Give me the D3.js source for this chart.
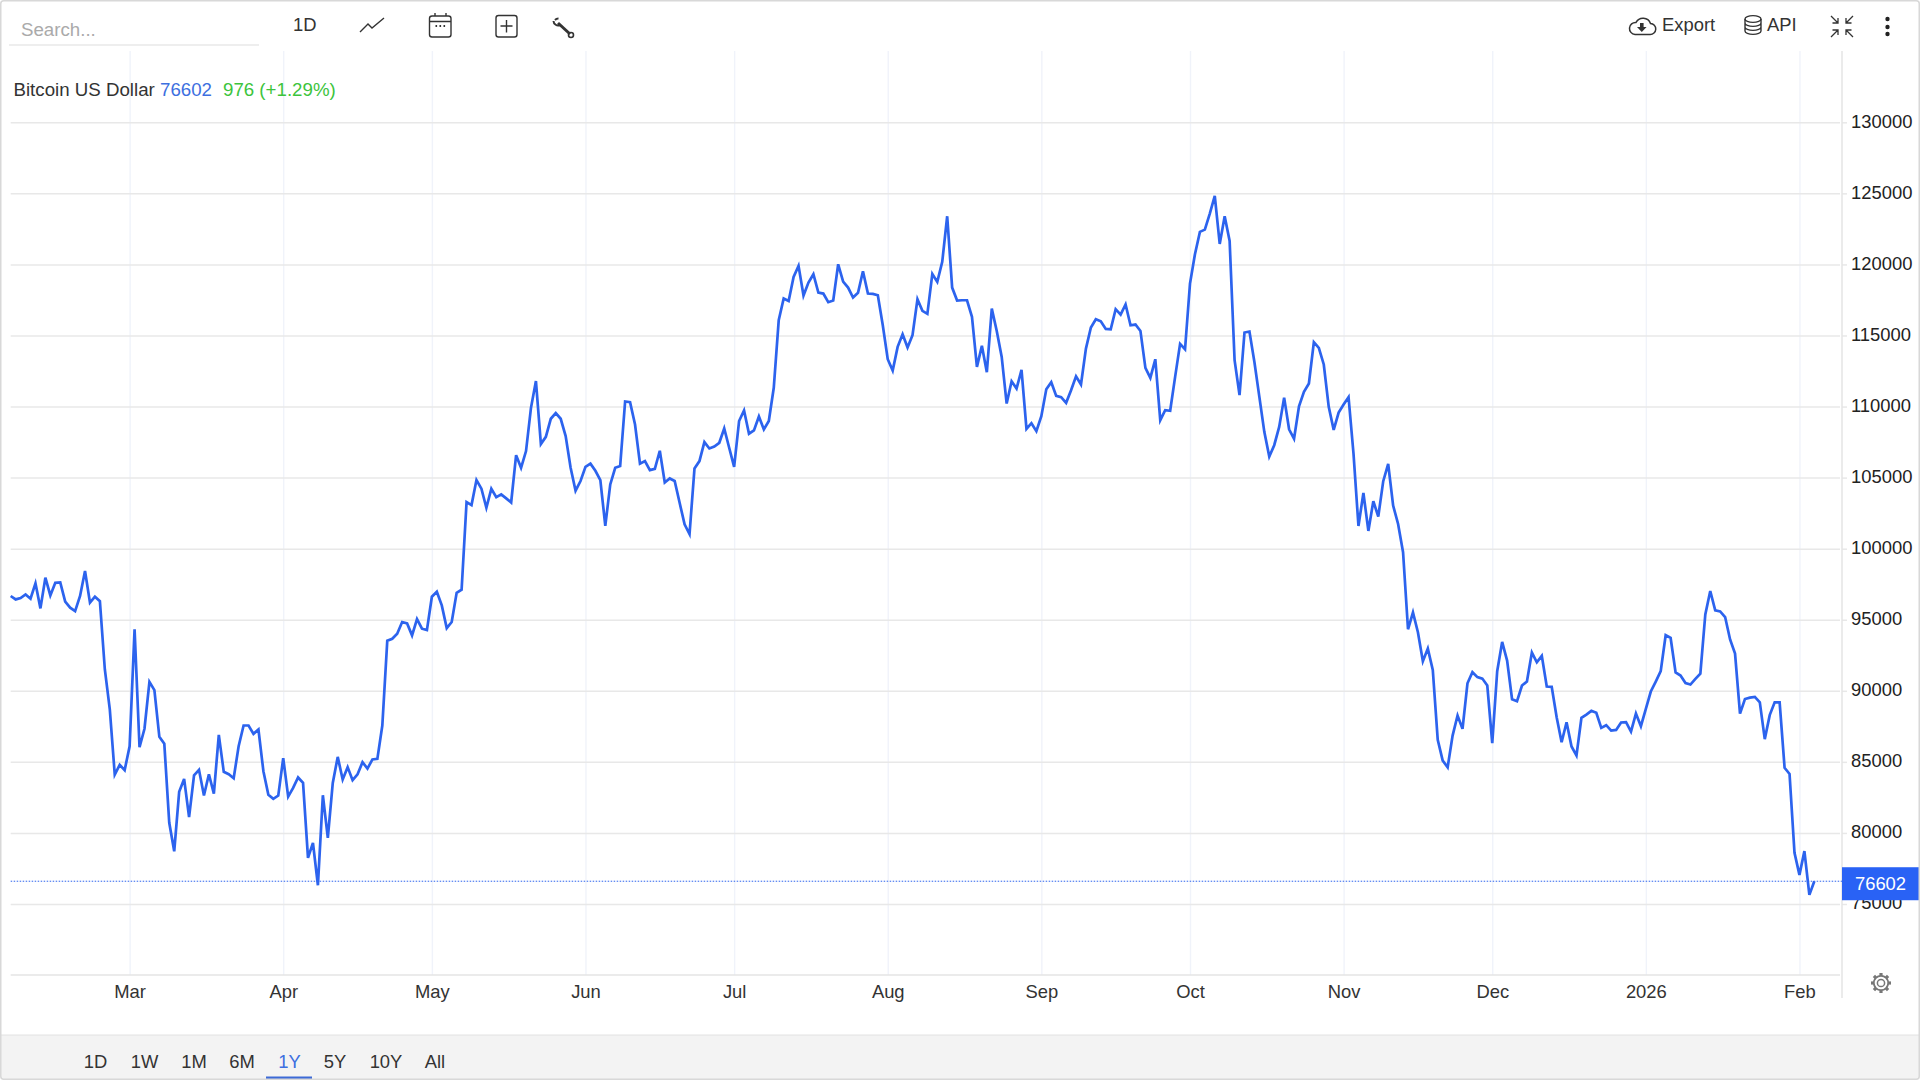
<!DOCTYPE html>
<html>
<head>
<meta charset="utf-8">
<script src="https://cdn.jsdelivr.net/npm/d3@7"></script>
<style>
html, body { margin: 0; padding: 0; background: #fff; }
svg { display: block; }
text { font-family: "Liberation Sans", Arial, sans-serif; font-size: 18.4px; }
</style>
</head>
<body>
<div id="target"></div>
<script>
const title = "Bitcoin US Dollar";
const lastPrice = 76602;
const changeText = "976 (+1.29%)";

const firstDay = new Date(Date.UTC(2025, 1, 5));
const lastDay = new Date(Date.UTC(2026, 1, 4));

// daily close
const prices = [
  96670, 96430, 96530, 96780, 96480, 97560, 95800, 97960, 96710, 97600,
  97630, 96270, 95850, 95610, 96670, 98430, 96200, 96620, 96310, 91500,
  88690, 84110, 84790, 84420, 86100, 94320, 86030, 87330, 90630, 90050,
  86760, 86270, 80710, 78710, 82890, 83800, 81110, 84060, 84440, 82630,
  84130, 82770, 86900, 84300, 84130, 83850, 86100, 87560, 87560, 86970,
  87280, 84340, 82680, 82400, 82630, 85260, 82560, 83170, 83900, 83520,
  78240, 79300, 76320, 82650, 79650, 83520, 85350, 83760, 84630, 83710,
  84130, 84980, 84530, 85170, 85210, 87560, 93520, 93660, 94010, 94840,
  94740, 93900, 95050, 94370, 94270, 96620, 96970, 96010, 94410, 94840,
  96900, 97110, 103280, 103070, 104830, 104220, 102880, 104220, 103630, 103820,
  103540, 103250, 106580, 105690, 106870, 109910, 111790, 107360, 107870, 109140,
  109540, 109140, 107920, 105690, 104080, 104760, 105760, 105980, 105480, 104830,
  101610, 104520, 105690, 105810, 110360, 110310, 108740, 105980, 106160, 105530,
  105620, 106890, 104660, 104940, 104760, 103230, 101710, 101030, 105650, 106160,
  107500, 107050, 107190, 107450, 108460, 107100, 105760, 108980, 109730, 108090,
  108320, 109300, 108390, 108980, 111320, 116070, 117600, 117430, 119120, 119900,
  117810, 118720, 119310, 118020, 117950, 117340, 117460, 120010, 118790, 118370,
  117670, 118000, 119520, 117950, 117930, 117830, 115720, 113330, 112530, 114200,
  115090, 114150, 115020, 117550, 116730, 116520, 119330, 118770, 120180, 123390,
  118370, 117460, 117480, 117480, 116310, 112790, 114270, 112420, 116890, 115320,
  113490, 110210, 111780, 111270, 112580, 108430, 108830, 108270, 109320, 111220,
  111710, 110750, 110660, 110260, 111150, 112130, 111550, 114080, 115560, 116140,
  116000, 115460, 115440, 116850, 116470, 117180, 115720, 115770, 115320, 112720,
  112020, 113330, 109040, 109740, 109700, 112090, 114410, 114030, 118650, 120720,
  122290, 122450, 123580, 124820, 121440, 123390, 121650, 113260, 110800, 115210,
  115280, 113140, 110680, 108220, 106480, 107280, 108570, 110630, 108400, 107730,
  110020, 111030, 111620, 114530, 114130, 112960, 109980, 108360, 109580, 110140,
  110660, 106690, 101600, 103920, 101250, 103340, 102260, 104750, 105960, 103030,
  101740, 99750, 94330, 95510, 94120, 92080, 92970, 91470, 86550, 85090,
  84620, 86850, 88260, 87320, 90530, 91310, 90960, 90860, 90370, 86310,
  91380, 93440, 92130, 89410, 89270, 90370, 90650, 92690, 92010, 92460,
  90300, 90280, 88140, 86380, 87790, 86080, 85450, 88100, 88330, 88590,
  88450, 87390, 87580, 87200, 87250, 87770, 87790, 87130, 88400, 87510,
  88730, 89950, 90650, 91380, 93910, 93720, 91290, 91070, 90550, 90440,
  90840, 91210, 95380, 97020, 95660, 95590, 95190, 93610, 92620, 88390,
  89420, 89520, 89570, 89190, 86600, 88290, 89190, 89190, 84580, 84150,
  78600, 77050, 78720, 75640, 76602
];

const yTicks = [75000, 80000, 85000, 90000, 95000, 100000, 105000, 110000, 115000, 120000, 125000, 130000];
const monthTicks = [
  Date.UTC(2025, 2, 1), Date.UTC(2025, 3, 1), Date.UTC(2025, 4, 1), Date.UTC(2025, 5, 1),
  Date.UTC(2025, 6, 1), Date.UTC(2025, 7, 1), Date.UTC(2025, 8, 1), Date.UTC(2025, 9, 1),
  Date.UTC(2025, 10, 1), Date.UTC(2025, 11, 1), Date.UTC(2026, 0, 1), Date.UTC(2026, 1, 1)
].map(d => new Date(d));
const monthLabels = ["Mar", "Apr", "May", "Jun", "Jul", "Aug", "Sep", "Oct", "Nov", "Dec", "2026", "Feb"];
const ranges = ["1D", "1W", "1M", "6M", "1Y", "5Y", "10Y", "All"];
const rangeX = [95.5, 144.5, 194, 242, 289.5, 335, 386, 435];

const width = 1920, height = 1080;
const blue = "#2c63ee";
const plotLeft = 10.7, plotRight = 1842, plotTop = 51, plotBottom = 975;

const days = d3.utcDay.range(firstDay, d3.utcDay.offset(lastDay, 1));
const x = d3.scaleUtc().domain([firstDay, lastDay]).range([plotLeft, plotLeft + 4.955 * 364]);
const y = d3.scaleLinear().domain([75000, 130000]).range([904, 122.3]);

const svg = d3.select("#target").append("svg").attr("width", width).attr("height", height);

// vertical grid + month labels
const xAxis = svg.append("g").attr("transform", `translate(0,${plotBottom})`)
  .call(d3.axisBottom(x).tickValues(monthTicks).tickFormat((d, i) => monthLabels[i]).tickSize(0).tickPadding(10.5));
xAxis.select(".domain").remove();
xAxis.selectAll("text").attr("fill", "#333").style("font-size", "18.4px").attr("dy", "0.7em");
xAxis.selectAll(".tick").append("line")
  .attr("y1", plotTop - plotBottom).attr("y2", 0)
  .attr("stroke", "#f0f3fa").attr("stroke-width", 1.4);

// horizontal grid + price labels
const yAxis = svg.append("g").attr("transform", `translate(${plotRight},0)`)
  .call(d3.axisRight(y).tickValues(yTicks).tickFormat(d3.format("d")).tickSize(5).tickPadding(4));
yAxis.select(".domain").remove();
yAxis.selectAll("text").attr("fill", "#222").style("font-size", "18.4px").attr("y", -1.2);
yAxis.selectAll(".tick line").attr("stroke", "#e8e8e8").attr("stroke-width", 1.5);
yAxis.selectAll(".tick").append("line")
  .attr("x1", plotLeft - plotRight).attr("x2", -2)
  .attr("stroke", "#e8e8e8").attr("stroke-width", 1.5);

// axis borders
svg.append("line").attr("x1", plotLeft).attr("x2", plotRight - 2).attr("y1", plotBottom).attr("y2", plotBottom)
  .attr("stroke", "#e4e4e4").attr("stroke-width", 1.5);
svg.append("line").attr("x1", plotRight).attr("x2", plotRight).attr("y1", plotTop).attr("y2", 998)
  .attr("stroke", "#e4e4e4").attr("stroke-width", 1.5);

// last price line
svg.append("line").attr("x1", plotLeft).attr("x2", plotRight).attr("y1", y(lastPrice)).attr("y2", y(lastPrice))
  .attr("stroke", blue).attr("stroke-width", 1).attr("stroke-dasharray", "1.5 1.5");

// price series
const line = d3.line().x((d, i) => x(days[i])).y(d => y(d));
svg.append("path").datum(prices).attr("d", line)
  .attr("fill", "none").attr("stroke", blue).attr("stroke-width", 2.7);

// last price tag
svg.append("rect").attr("x", plotRight).attr("y", y(lastPrice) - 14).attr("width", 78).attr("height", 33).attr("fill", "#2962f5");
svg.append("text").attr("x", 1880.5).attr("y", y(lastPrice) + 2).attr("dy", "0.35em")
  .attr("text-anchor", "middle").attr("fill", "#fff").text(lastPrice);

// legend line
const legend = svg.append("text").attr("x", 13.5).attr("y", 89.5).attr("dy", "0.35em").style("font-size", "18.7px");
legend.append("tspan").attr("fill", "#333").text(title);
legend.append("tspan").attr("x", 160).attr("fill", "#3d6fe0").text(lastPrice);
legend.append("tspan").attr("x", 223).attr("fill", "#3cc43c").text(changeText);

// toolbar
svg.append("text").attr("x", 21).attr("y", 29.5).attr("dy", "0.35em").attr("fill", "#aaa").style("font-size", "18.7px").text("Search...");
svg.append("line").attr("x1", 9).attr("x2", 259).attr("y1", 45).attr("y2", 45).attr("stroke", "#ddd").attr("stroke-width", 1.2);
svg.append("text").attr("x", 293).attr("y", 25).attr("dy", "0.35em").attr("fill", "#333").text("1D");

const icons = svg.append("g").attr("fill", "none").attr("stroke", "#333").attr("stroke-width", 1.4);
icons.append("path").attr("d", "M360 32 L368 24 L372 28 L384 18");
icons.append("rect").attr("x", 429.5).attr("y", 16).attr("width", 21.5).attr("height", 21).attr("rx", 2.5);
icons.append("path").attr("d", "M430 21.5 H451 M435 13 V16 M446 13 V16");
icons.append("path").attr("d", "M435.5 26 h1.6 M439.5 26 h1.6 M443.5 26 h1.6").attr("stroke-width", 1.8);
icons.append("rect").attr("x", 496).attr("y", 15.5).attr("width", 21).attr("height", 21.5).attr("rx", 2.5);
icons.append("path").attr("d", "M506.5 20 V32.5 M500.5 26 H512.5");
// wrench
icons.append("path").attr("d", "M558 23 L570 34").attr("stroke-width", 3);
icons.append("path").attr("d", "M553.5 21 A4.6 4.6 0 0 0 560 25 M558.5 18.5 A4.6 4.6 0 0 0 555 20").attr("stroke-width", 2);
icons.append("circle").attr("cx", 571).attr("cy", 35).attr("r", 2.5).attr("stroke-width", 1.6);

// cloud download
icons.append("path").attr("stroke-width", 1.5)
  .attr("d", "M1635 34.5 H1650 A5.5 5.5 0 0 0 1650.5 23.5 A8 8 0 0 0 1636 22.5 A6 6 0 0 0 1635 34.5 Z");
icons.append("path").attr("fill", "#333").attr("stroke", "none").attr("d", "M1640 23 h3.6 v4 h3 l-4.8 5 l-4.8 -5 h3 Z");
svg.append("text").attr("x", 1662).attr("y", 25).attr("dy", "0.35em").attr("fill", "#333").text("Export");

// database
icons.append("ellipse").attr("cx", 1753).attr("cy", 19).attr("rx", 8).attr("ry", 3.4);
icons.append("path").attr("d", "M1745 19 V31 A8 3.4 0 0 0 1761 31 V19 M1745 23 A8 3.4 0 0 0 1761 23 M1745 27 A8 3.4 0 0 0 1761 27");
svg.append("text").attr("x", 1767).attr("y", 25).attr("dy", "0.35em").attr("fill", "#333").text("API");

// compress arrows
icons.append("path").attr("stroke-width", 1.3).attr("d",
  "M1831 16 L1838 23 M1838 18 V23 H1832.5 M1853 16 L1846 23 M1846 18 V23 H1851.5 M1831 37 L1838 30 M1838 35 V30 H1832.5 M1853 37 L1846 30 M1846 35 V30 H1851.5");

// more dots
svg.append("g").attr("fill", "#222").selectAll("circle").data([19, 27, 34]).join("circle")
  .attr("cx", 1887.5).attr("cy", d => d).attr("r", 2.2);

// settings gear
const gear = svg.append("g").attr("transform", "translate(1881,983)").attr("fill", "none").attr("stroke", "#777");
gear.append("circle").attr("r", 3.6).attr("stroke-width", 1.5);
gear.append("circle").attr("r", 7.2).attr("stroke-width", 1.8);
gear.selectAll("line").data(d3.range(8)).join("line")
  .attr("y1", -7).attr("y2", -10).attr("stroke-width", 3.2)
  .attr("transform", d => `rotate(${d * 45})`);

// range bar
svg.append("rect").attr("x", 1).attr("y", 1035).attr("width", width - 2).attr("height", 44).attr("fill", "#f3f3f3");
svg.append("line").attr("x1", 1).attr("x2", width - 1).attr("y1", 1035).attr("y2", 1035).attr("stroke", "#e2e2e2");
svg.selectAll(".range").data(ranges).join("text").attr("class", "range")
  .attr("x", (d, i) => rangeX[i]).attr("y", 1061.5).attr("dy", "0.35em").attr("text-anchor", "middle")
  .attr("fill", d => d === "1Y" ? "#3d6fe0" : "#333").text(d => d);
svg.append("rect").attr("x", 266).attr("y", 1076.5).attr("width", 46).attr("height", 2.6).attr("fill", "#3d6ad6");

// outer frame
svg.append("rect").attr("x", 0.75).attr("y", 0.75).attr("width", width - 1.5).attr("height", height - 1.5).attr("rx", 3)
  .attr("fill", "none").attr("stroke", "#d8d8d8").attr("stroke-width", 1.5);
</script>
</body>
</html>
